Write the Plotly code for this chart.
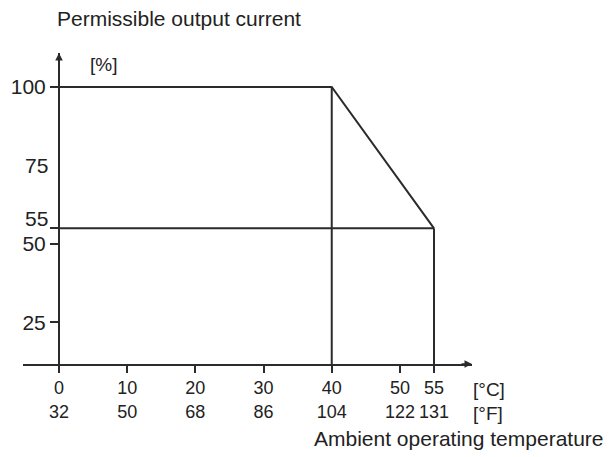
import plotly.graph_objects as go

# Data
temp_c = [0, 40, 55]
current_pct = [100, 100, 55]
tick_c = [0, 10, 20, 30, 40, 50, 55]
tick_f = [32, 50, 68, 86, 104, 122, 131]
y_ticks = [25, 50, 55, 100]
y_label_only = [75]

FONT = "Liberation Sans, Arial, sans-serif"
LINE = "#2b2b2b"
TXT = "#222222"

x_range = [-5.28, 60.57]
y_range = [11.78, 110.83]
y_pos = (0 - x_range[0]) / (x_range[1] - x_range[0])

W, H = 610, 457
l, r, t, b = 23, 138, 53, 93
pw, ph = W - l - r, H - t - b

fig = go.Figure()

# derating curve
fig.add_trace(go.Scatter(x=temp_c, y=current_pct, mode="lines",
                         line=dict(color=LINE, width=2), hoverinfo="skip"))
# horizontal reference line at the end value
fig.add_trace(go.Scatter(x=[temp_c[0], temp_c[-1]], y=[current_pct[-1], current_pct[-1]],
                         mode="lines", line=dict(color=LINE, width=2), hoverinfo="skip"))

# vertical drop lines from the knee and end point to the x axis
for xv, yv in [(temp_c[1], current_pct[1]), (temp_c[2], current_pct[2])]:
    fig.add_shape(type="line", xref="x", yref="y", x0=xv, x1=xv,
                  y0=y_range[0], y1=yv, line=dict(color=LINE, width=2))

fig.update_layout(
    width=W, height=H,
    margin=dict(l=l, r=r, t=t, b=b, autoexpand=False),
    paper_bgcolor="white", plot_bgcolor="white",
    showlegend=False,
    font=dict(family=FONT, size=19, color=TXT),
    xaxis=dict(range=x_range, showgrid=False, zeroline=False, automargin=False,
               showline=True, linecolor=LINE, linewidth=1.5,
               ticks="outside", ticklen=7, tickwidth=1.5, tickcolor=LINE,
               tickvals=tick_c,
               ticktext=[f"{c}<br>{f}" for c, f in zip(tick_c, tick_f)],
               tickfont=dict(size=18)),
    yaxis=dict(range=y_range, showgrid=False, zeroline=False, automargin=False,
               anchor="free", position=y_pos,
               showline=True, linecolor=LINE, linewidth=2,
               ticks="outside", ticklen=8, tickwidth=1.5, tickcolor=LINE,
               tickvals=y_ticks,
               ticktext=["" if v == 55 else str(v) for v in y_ticks],
               tickfont=dict(size=21)),
)

annotations = []
# 75 (label without tick) and 55 (label nudged up to stay clear of 50)
for v, shift in [(y_label_only[0], 0), (55, 10)]:
    annotations.append(dict(x=y_pos, xref="paper", y=v, yref="y", text=str(v),
                            showarrow=False, xanchor="right", xshift=-9, yshift=shift,
                            font=dict(size=21)))
# axis arrows
annotations.append(dict(x=1, xref="paper", y=y_range[0], yref="y", ax=-12, ay=0,
                        text="", showarrow=True, arrowhead=2, arrowsize=1,
                        arrowwidth=1.5, arrowcolor=LINE, standoff=0))
annotations.append(dict(x=0, xref="x", y=1, yref="paper", ax=0, ay=12,
                        text="", showarrow=True, arrowhead=2, arrowsize=1,
                        arrowwidth=1.5, arrowcolor=LINE, standoff=0))
# texts placed in pixels
pix_texts = [
    dict(x=55, y=18, text="Permissible output current", xanchor="left", size=21),
    dict(x=88, y=65, text="[%]", xanchor="left", size=19),
    dict(x=471, y=389, text="[°C]", xanchor="left", size=19),
    dict(x=471, y=413, text="[°F]", xanchor="left", size=19),
    dict(x=606, y=438, text="Ambient operating temperature", xanchor="right", size=21),
]
for a in pix_texts:
    size = a.pop("size")
    a.update(xref="paper", yref="paper", showarrow=False, yanchor="middle",
             font=dict(size=size))
    a["x"] = (a["x"] - l) / pw
    a["y"] = (H - b - a["y"]) / ph
    annotations.append(a)
fig.update_layout(annotations=annotations)

fig.write_html("out.html", config={"displayModeBar": False},
               post_script="document.body.style.margin='0';document.body.style.overflow='hidden';")
